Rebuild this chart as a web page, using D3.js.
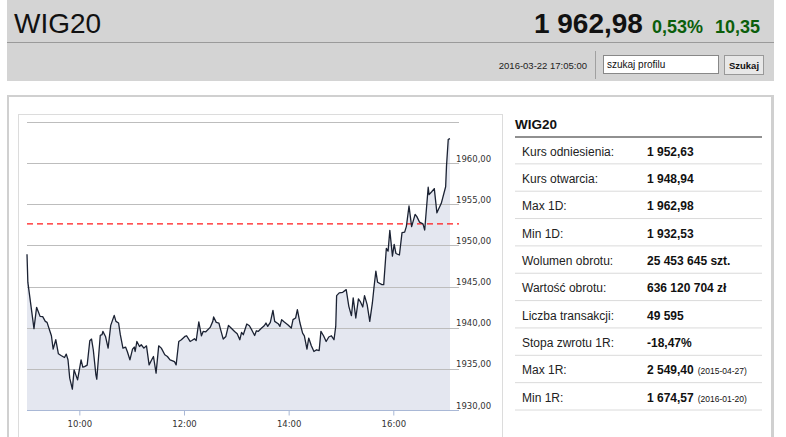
<!DOCTYPE html>
<html>
<head>
<meta charset="utf-8">
<script src="https://cdn.jsdelivr.net/npm/d3@7"></script>
<style>
  body { margin: 0; background: #fff; }
  svg { display: block; font-family: "Liberation Sans", Arial, sans-serif; }
</style>
</head>
<body>
<div id="svg-area"></div>
<script>
// intraday WIG20, 2016-03-22
var times = ["9:00","9:01","9:08","9:11","9:15","9:18","9:21","9:23","9:26","9:28","9:30","9:33","9:36","9:39","9:43","9:45","9:47","9:49","9:52","9:54","9:56","9:58",
  "10:02","10:04","10:06","10:09","10:12","10:14","10:16","10:19","10:20","10:24","10:26","10:27","10:30","10:33","10:36","10:40","10:42","10:45","10:47","10:50","10:53","10:55","10:58",
  "11:01","11:03","11:04","11:06","11:09","11:11","11:14","11:17","11:20","11:23","11:25","11:28","11:31","11:34","11:38","11:41","11:44","11:47","11:49","11:51","11:54","11:57",
  "12:01","12:03","12:07","12:09","12:12","12:14","12:17","12:20","12:22","12:25","12:30","12:33","12:34","12:37","12:40","12:42","12:45","12:48","12:51","12:54","12:58",
  "13:01","13:04","13:06","13:08","13:12","13:15","13:18","13:21","13:23","13:25","13:29","13:32","13:34","13:36","13:39","13:42","13:44","13:48","13:50","13:52","13:55","13:59",
  "14:03","14:05","14:08","14:10","14:13","14:16","14:18","14:21","14:23","14:26","14:29","14:32","14:35","14:37","14:40","14:43","14:46","14:49","14:52","14:54","14:55","14:58",
  "15:02","15:06","15:09","15:12","15:14","15:17","15:20","15:22","15:25","15:27","15:30","15:33","15:36","15:38","15:40","15:42","15:47","15:49","15:52","15:54","15:56","15:59",
  "16:01","16:03","16:07","16:10","16:13","16:15","16:18","16:21","16:25","16:27","16:30","16:34","16:36","16:40","16:41","16:44","16:47","16:50","16:55",
  "17:00","17:01","17:03","17:05"];
var values = [1948.94,1945.5,1939.88,1942.48,1941.38,1941.34,1940.77,1940.65,1939.67,1939.02,1937.40,1938.54,1936.83,1936.62,1936.38,1936.79,1936.10,1933.87,1932.53,1934.88,1934.27,1933.66,
  1936.10,1935.21,1935.28,1935.45,1938.41,1938.62,1937.32,1934.27,1933.74,1939.06,1939.15,1939.55,1938.94,1937.52,1940.28,1941.50,1940.77,1940.57,1939.15,1937.52,1937.65,1937.11,1936.10,
  1937.40,1937.65,1937.11,1938.33,1937.72,1937.93,1937.52,1937.80,1935.49,1936.10,1936.50,1934.48,1937.80,1937.52,1936.71,1936.50,1936.10,1935.98,1935.89,1935.49,1938.33,1938.54,
  1938.94,1939.02,1938.33,1938.45,1938.66,1938.45,1940.70,1939.02,1939.55,1939.50,1940.04,1940.77,1941.31,1940.65,1940.57,1939.76,1938.62,1938.94,1940.28,1939.96,1939.55,
  1939.27,1938.54,1939.43,1939.15,1940.45,1940.24,1939.67,1939.06,1939.63,1939.55,1939.96,1940.24,1940.57,1940.16,1940.65,1942.11,1940.77,1940.49,1940.16,1940.98,1940.70,1940.37,
  1939.96,1940.98,1941.18,1942.20,1940.57,1939.35,1939.02,1937.40,1938.74,1937.80,1937.11,1937.32,1937.23,1939.55,1939.02,1938.33,1938.87,1939.02,1938.54,1940.16,1943.90,1944.23,
  1944.30,1944.63,1942.60,1941.46,1943.62,1941.18,1943.50,1943.21,1942.52,1943.90,1942.80,1940.77,1943.01,1945.04,1946.87,1945.52,1945.24,1945.24,1949.63,1949.30,1951.83,1948.70,
  1950.12,1949.02,1948.84,1951.55,1951.62,1952.32,1954.79,1952.28,1953.78,1953.50,1952.84,1952.62,1951.87,1957.07,1956.18,1956.52,1956.91,1953.96,1955.12,
  1957.13,1959.67,1962.90,1962.98];

var refValue = 1952.63;
var yTicks = [1930, 1935, 1940, 1945, 1950, 1955, 1960, 1965];
var xTicks = ["10:00", "12:00", "14:00", "16:00"];

var statLabels = ["Kurs odniesienia:", "Kurs otwarcia:", "Max 1D:", "Min 1D:", "Wolumen obrotu:", "Wartość obrotu:",
  "Liczba transakcji:", "Stopa zwrotu 1R:", "Max 1R:", "Min 1R:"];
var statValues = ["1 952,63", "1 948,94", "1 962,98", "1 932,53", "25 453 645 szt.", "636 120 704 zł",
  "49 595", "-18,47%", "2 549,40", "1 674,57"];
var statNotes = ["", "", "", "", "", "", "", "", "(2015-04-27)", "(2016-01-20)"];

var width = 786, height = 437;
var parseTime = d3.timeParse("%H:%M");
var data = times.map(function(t, i) { return { t: parseTime(t), v: values[i] }; });
var fmt = function(v) { return d3.format(".2f")(v).replace(".", ","); };

var svg = d3.select('#svg-area').append('svg')
  .attr('width', width)
  .attr('height', height);

// header
svg.append('rect').attr('x', 7).attr('y', 0).attr('width', 767).attr('height', 81).attr('fill', '#d4d4d4');
svg.append('line').attr('x1', 7).attr('x2', 774).attr('y1', 42.5).attr('y2', 42.5).attr('stroke', '#9a9a9a');
svg.append('text').attr('x', 14).attr('y', 33).style('font-size', '28px').attr('fill', '#111').text('WIG20');
var head = svg.append('text').attr('x', 760).attr('y', 33).attr('text-anchor', 'end').style('font-weight', 'bold');
head.append('tspan').style('font-size', '28px').attr('fill', '#111').text('1 962,98');
head.append('tspan').attr('dx', 9).style('font-size', '18px').attr('fill', '#0b5e0b').text('0,53%');
head.append('tspan').attr('dx', 12).style('font-size', '18px').attr('fill', '#0b5e0b').text('10,35');

svg.append('text').attr('x', 587).attr('y', 69).attr('text-anchor', 'end').style('font-size', '9.5px').attr('fill', '#222').text('2016-03-22 17:05:00');
svg.append('line').attr('x1', 595.5).attr('x2', 595.5).attr('y1', 51).attr('y2', 79).attr('stroke', '#a0a0a0');
svg.append('rect').attr('x', 603.5).attr('y', 55.5).attr('width', 115).attr('height', 18).attr('fill', '#fff').attr('stroke', '#888');
svg.append('text').attr('x', 607).attr('y', 68).style('font-size', '10px').attr('fill', '#111').text('szukaj profilu');
svg.append('rect').attr('x', 724.5).attr('y', 55.5).attr('width', 39).attr('height', 19).attr('fill', '#e8e8e8').attr('stroke', '#999');
svg.append('text').attr('x', 744).attr('y', 69).attr('text-anchor', 'middle').style('font-size', '9.5px').style('font-weight', 'bold').attr('fill', '#111').text('Szukaj');

// panels
svg.append('rect').attr('x', 8).attr('y', 96).attr('width', 765).attr('height', 360).attr('fill', '#fff').attr('stroke', '#d0d0d0').attr('stroke-width', 2);
svg.append('rect').attr('x', 18.5).attr('y', 114.5).attr('width', 484).attr('height', 340).attr('fill', '#fff').attr('stroke', '#dcdcdc');

// chart
var x = d3.scaleTime().domain([parseTime("9:00"), parseTime("17:05")]).range([27, 450]);
var y = d3.scaleLinear().domain([1930, 1965]).range([410, 122]);
var gridRight = 459;

var g = svg.append('g').style('font-family', '"DejaVu Sans", Verdana, sans-serif');

g.append('path')
  .datum(data)
  .attr('fill', '#e4e7f0')
  .attr('d', d3.area().x(function(d) { return x(d.t); }).y0(y(1930)).y1(function(d) { return y(d.v); }));

g.selectAll('.grid').data(yTicks.filter(function(d) { return d > 1930; })).enter().append('line')
  .attr('class', 'grid')
  .attr('x1', 27).attr('x2', gridRight)
  .attr('y1', function(d) { return Math.round(y(d)) + 0.5; })
  .attr('y2', function(d) { return Math.round(y(d)) + 0.5; })
  .attr('stroke', '#bdbdbd');

g.selectAll('.ylab').data(yTicks.filter(function(d) { return d < 1965; })).enter().append('text')
  .attr('class', 'ylab')
  .attr('x', 456).attr('y', function(d) { return y(d) - 1.5; })
  .style('font-size', '8.5px').attr('fill', '#333')
  .text(fmt);

var xAxis = g.append('g').attr('transform', 'translate(0,' + (Math.round(y(1930)) + 0.5) + ')')
  .call(d3.axisBottom(x).tickValues(xTicks.map(parseTime)).tickFormat(d3.timeFormat('%H:%M')).tickSize(5).tickSizeOuter(0));
xAxis.select('.domain').attr('stroke', '#a9b8d6').attr('d', 'M27,0H' + gridRight);
xAxis.selectAll('.tick line').attr('stroke', '#a9b8d6');
xAxis.selectAll('.tick text').attr('y', 10).style('font-size', '8.5px').style('font-family', '"DejaVu Sans", Verdana, sans-serif').attr('fill', '#333');

g.append('line')
  .attr('x1', 27).attr('x2', gridRight)
  .attr('y1', y(refValue)).attr('y2', y(refValue))
  .attr('stroke', '#ff1a1a').attr('stroke-width', 1.3).attr('stroke-dasharray', '6,4');

g.append('path')
  .datum(data)
  .attr('fill', 'none')
  .attr('stroke', '#1b2233')
  .attr('stroke-width', 1.3)
  .attr('stroke-linejoin', 'round')
  .attr('d', d3.line().x(function(d) { return x(d.t); }).y(function(d) { return y(d.v); }));

// stats table
var tbl = svg.append('g');
tbl.append('text').attr('x', 515).attr('y', 129).style('font-size', '13.5px').style('font-weight', 'bold').attr('fill', '#111').text('WIG20');
tbl.append('line').attr('x1', 515).attr('x2', 762).attr('y1', 137).attr('y2', 137).attr('stroke', '#222').attr('stroke-width', 1.2);

var rowH = 27.35, row0 = 137;
var rows = tbl.selectAll('.row').data(statLabels).enter().append('g')
  .attr('class', 'row')
  .attr('transform', function(d, i) { return 'translate(0,' + (row0 + i * rowH) + ')'; });
rows.append('line').attr('x1', 515).attr('x2', 762).attr('y1', rowH - 0.5).attr('y2', rowH - 0.5).attr('stroke', '#dadada');
rows.append('text').attr('x', 522).attr('y', 18.5).style('font-size', '12px').attr('fill', '#222').text(function(d) { return d; });
var vt = rows.append('text').attr('x', 647).attr('y', 18.5).attr('fill', '#111');
vt.append('tspan').style('font-size', '12px').style('font-weight', 'bold').text(function(d, i) { return statValues[i]; });
vt.append('tspan').attr('dx', 4).style('font-size', '8.5px').text(function(d, i) { return statNotes[i]; });

// right border of panel
svg.append('line').attr('x1', 772).attr('x2', 772).attr('y1', 96).attr('y2', 437).attr('stroke', '#d0d0d0').attr('stroke-width', 2);
</script>
</body>
</html>
